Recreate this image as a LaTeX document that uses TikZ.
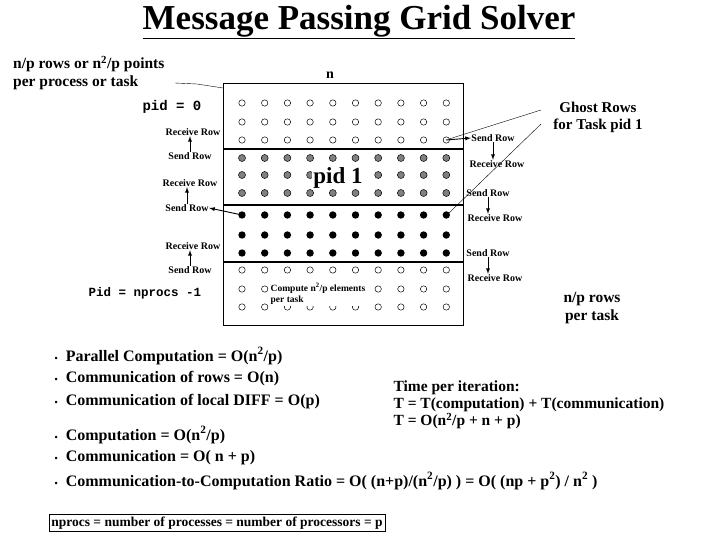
\documentclass[tikz,border=0pt]{standalone}
\usepackage{fontspec}
\setmainfont{Liberation Serif}
\setmonofont{Liberation Mono}
\begin{document}
\begin{tikzpicture}[x=1pt,y=-1pt,
  sm/.style={font=\bfseries\fontsize{10}{11}\selectfont, inner sep=0.5pt},
  lab/.style={font=\bfseries\fontsize{15.5}{18}\selectfont, align=left, inner sep=1pt},
  ar/.style={-latex, line width=0.9pt},
  body/.style={font=\bfseries\fontsize{16}{18}\selectfont, anchor=west, inner sep=0.5pt}]
\useasboundingbox (0,0) rectangle (720,540);
\fill[white] (0,0) rectangle (720,540);
\node[font=\bfseries\fontsize{35}{38}\selectfont] (title) at (359,22) {\underline{Message Passing Grid Solver}};
\draw (223,83) rectangle (463,325);
\foreach \y in {149,205,262} \draw[line width=1.4pt] (223,\y) -- (463,\y);
\foreach \c in {0,...,9} {
  \pgfmathsetmacro\xx{242+22.7*\c}
  \foreach \y in {103,122,140,270,289,307} \draw[line width=0.5pt] (\xx,\y) circle (3.2);
  \foreach \y in {158,175,193} \draw[line width=0.5pt, fill=gray] (\xx,\y) circle (3.5);
  \foreach \y in {215,235,253} \fill (\xx,\y) circle (3.7);
}
\coordinate (g1) at (446,140);
\coordinate (g2) at (446,215);
\coordinate (g3) at (242,215);
\node[fill=white, font=\bfseries\fontsize{23}{25}\selectfont, inner sep=1pt] (pid1) at (338,178) {pid 1};
\node[fill=white, font=\bfseries\fontsize{9.5}{11}\selectfont, align=left, inner sep=1pt] (cmp) at (318,294) {Compute n\textsuperscript{2}/p elements\\per task};
\node[font=\bfseries\fontsize{14}{15}\selectfont] (n) at (330,75) {n};
\node[lab, anchor=north west] (np) at (12,55) {n/p rows or n\textsuperscript{2}/p points\\per process or task};
\draw (175,83) -- (197,84) -- (223,88);
\node[font=\ttfamily\bfseries\fontsize{14}{15}\selectfont] (p0) at (172,107) {pid = 0};
\node[font=\ttfamily\bfseries\fontsize{12.5}{14}\selectfont] (pn) at (145,293) {Pid = nprocs -1};
% left labels
\node[sm] (lr1) at (193,132) {Receive Row};
\node[sm] (ls1) at (190,156) {Send Row};
\draw[ar] (ls1.north) -- (ls1.north |- lr1.south);
\node[sm] (lr2) at (190,183) {Receive Row};
\node[sm] (ls2) at (187,208) {Send Row};
\draw[ar] (ls2.north) -- (ls2.north |- lr2.south);
\draw[ar] (g3) -- (ls2.east);
\node[sm] (lr3) at (193,246) {Receive Row};
\node[sm] (ls3) at (190,270) {Send Row};
\draw[ar] (ls3.north) -- (ls3.north |- lr3.south);
% right labels
\node[sm] (rs1) at (493,138) {Send Row};
\node[sm] (rr1) at (497,164) {Receive Row};
\draw[ar] (rs1.south) -- (rs1.south |- rr1.north);
\draw[ar] (g1) -- (rs1.west);
\node[sm] (rs2) at (488,193) {Send Row};
\node[sm] (rr2) at (495,218) {Receive Row};
\draw[ar] (rs2.south) -- (rs2.south |- rr2.north);
\node[sm] (rs3) at (488,253) {Send Row};
\node[sm] (rr3) at (495,278) {Receive Row};
\draw[ar] (rs3.south) -- (rs3.south |- rr3.north);
\node[font=\bfseries\fontsize{15}{17}\selectfont, align=center] (ghost) at (598,117) {Ghost Rows\\for Task pid 1};
\draw[line width=0.4pt] (g1) ++(3,-1) -- (541,110);
\draw[line width=0.4pt] (g2) ++(3,-2) -- (541,124);
\node[lab, align=center] (npt) at (592,308) {n/p rows\\per task};
% bullets
\foreach \t/\y in {{Parallel Computation = O(n\textsuperscript{2}/p)}/356, {Communication of rows = O(n)}/379, {Communication of local DIFF = O(p)}/402, {Computation = O(n\textsuperscript{2}/p)}/435, {Communication = O( n + p)}/458, {Communication-to-Computation Ratio = O( (n+p)/(n\textsuperscript{2}/p) ) = O( (np + p\textsuperscript{2}) / n\textsuperscript{2} )}/481}
  \node[body] at (54,\y) {{\fontsize{9}{10}\selectfont\textbullet}\hspace{8pt}\t};
\node[font=\bfseries\fontsize{15.5}{17}\selectfont, align=left, anchor=north west] (tpi) at (390,377) {Time per iteration:\\T = T(computation) + T(communication)\\T = O(n\textsuperscript{2}/p + n + p)};
\node[draw, font=\bfseries\fontsize{13.5}{15}\selectfont, inner sep=2.5pt] (def) at (217,523) {nprocs = number of processes = number of processors = p};
\end{tikzpicture}
\end{document}
